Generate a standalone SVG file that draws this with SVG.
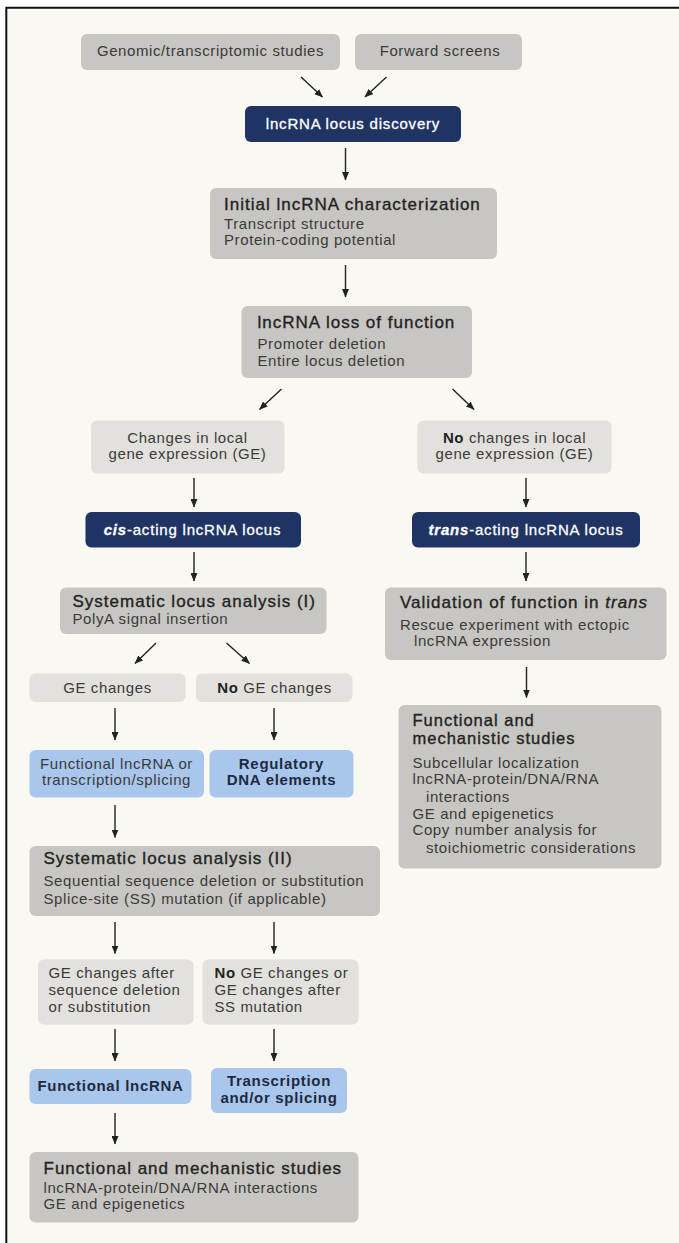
<svg xmlns="http://www.w3.org/2000/svg" width="679" height="1243" viewBox="0 0 679 1243">
<defs>
<style>
.bg{fill:#f9f8f2}
.dk{fill:#c7c6c2}
.lt{fill:#e2e1dd}
.nv{fill:#1f3463}
.bl{fill:#a9c6ec}
text{font-family:"Liberation Sans",Arial,Helvetica,sans-serif;font-size:15px;letter-spacing:0.6px;fill:#3a3a3a}
.h{font-size:17px;letter-spacing:1px;fill:#232323;stroke:#232323;stroke-width:0.35}
.h2{font-size:16.5px}
.w{fill:#ffffff;stroke:#ffffff;stroke-width:0.3;letter-spacing:0.8px}
.bd{font-weight:bold;fill:#1e2a3e;letter-spacing:0.7px}
.c{text-anchor:middle}
.k{font-weight:bold;fill:#222}
.cn line{stroke:#222;stroke-width:1.4;fill:none;marker-end:url(#ah)}
</style>
<marker id="ah" markerUnits="userSpaceOnUse" markerWidth="9" markerHeight="7" refX="8" refY="3.5" orient="auto">
<path d="M0,0 L8.5,3.5 L0,7 z" fill="#222"/>
</marker>
</defs>
<rect x="0" y="0" width="679" height="1243" fill="#ffffff"/>
<rect class="bg" x="6" y="7.5" width="673" height="1236"/>
<path d="M6.3,1243 V7.7 H679" fill="none" stroke="#111" stroke-width="2"/>

<g id="n-genomic"><rect class="dk" x="81" y="34" width="259" height="36" rx="6"/><text class="c" x="210.5" y="56">Genomic/transcriptomic studies</text></g>
<g id="n-forward"><rect class="dk" x="355" y="34" width="167" height="36" rx="6"/><text class="c" x="440" y="56">Forward screens</text></g>
<g id="n-discovery"><rect class="nv" x="245" y="106" width="216" height="36" rx="6"/><text class="c w" x="353" y="129">lncRNA locus discovery</text></g>
<g id="n-initial"><rect class="dk" x="210" y="188" width="287" height="71" rx="6"/>
<text class="h" x="224" y="210">Initial lncRNA characterization</text>
<text x="224" y="228.5">Transcript structure</text>
<text x="224" y="244.5">Protein-coding potential</text></g>
<g id="n-loss"><rect class="dk" x="241.5" y="306" width="230.5" height="72" rx="6"/>
<text class="h" x="257.5" y="327.5">lncRNA loss of function</text>
<text x="257.5" y="348.5">Promoter deletion</text>
<text x="257.5" y="365.5">Entire locus deletion</text></g>
<g id="n-changes"><rect class="lt" x="91" y="420.5" width="193.5" height="53" rx="6"/>
<text class="c" x="187.5" y="442.5">Changes in local</text>
<text class="c" x="187.5" y="458.5">gene expression (GE)</text></g>
<g id="n-nochanges"><rect class="lt" x="417.5" y="420.5" width="194" height="53" rx="6"/>
<text class="c" x="514.5" y="442.5"><tspan class="k">No</tspan> changes in local</text>
<text class="c" x="514.5" y="458.5">gene expression (GE)</text></g>
<g id="n-cis"><rect class="nv" x="85.5" y="512" width="215.5" height="35.5" rx="6"/>
<text class="c w" x="192.5" y="534.5"><tspan font-weight="bold" font-style="italic">cis</tspan>-acting lncRNA locus</text></g>
<g id="n-trans"><rect class="nv" x="412" y="512" width="228" height="35.5" rx="6"/>
<text class="c w" x="526" y="534.5"><tspan font-weight="bold" font-style="italic">trans</tspan>-acting lncRNA locus</text></g>
<g id="n-sys1"><rect class="dk" x="60" y="587.5" width="266.5" height="46.5" rx="6"/>
<text class="h" x="72.5" y="606.5">Systematic locus analysis (I)</text>
<text x="72.5" y="623.5">PolyA signal insertion</text></g>
<g id="n-validation"><rect class="dk" x="385" y="587.5" width="281.5" height="72.5" rx="6"/>
<text class="h" x="400" y="607.5">Validation of function in <tspan font-style="italic">trans</tspan></text>
<text x="400" y="629.5">Rescue experiment with ectopic</text>
<text x="414" y="646">lncRNA expression</text></g>
<g id="n-ge"><rect class="lt" x="29.5" y="673.5" width="156" height="28.5" rx="6"/>
<text class="c" x="107.5" y="692.5">GE changes</text></g>
<g id="n-noge"><rect class="lt" x="196" y="673.5" width="156.5" height="28.5" rx="6"/>
<text class="c" x="274.5" y="692.5"><tspan class="k">No</tspan> GE changes</text></g>
<g id="n-funcor"><rect class="bl" x="29.5" y="750" width="174.5" height="47.5" rx="6"/>
<text class="c" x="116.5" y="768.5">Functional lncRNA or</text>
<text class="c" x="116.5" y="784.5">transcription/splicing</text></g>
<g id="n-regulatory"><rect class="bl" x="209.5" y="750" width="144" height="47.5" rx="6"/>
<text class="c bd" x="281.5" y="768.5">Regulatory</text>
<text class="c bd" x="281.5" y="784.5">DNA elements</text></g>
<g id="n-func-right"><rect class="dk" x="398.5" y="705" width="263" height="163.5" rx="6"/>
<text class="h h2" x="412.5" y="726">Functional and</text>
<text class="h h2" x="412.5" y="744">mechanistic studies</text>
<text x="412.5" y="767.5">Subcellular localization</text>
<text x="412.5" y="784">lncRNA-protein/DNA/RNA</text>
<text x="426" y="801.5">interactions</text>
<text x="412.5" y="818.5">GE and epigenetics</text>
<text x="412.5" y="835">Copy number analysis for</text>
<text x="426" y="852.5">stoichiometric considerations</text></g>
<g id="n-sys2"><rect class="dk" x="29.5" y="846" width="350.5" height="70" rx="6"/>
<text class="h" x="43.5" y="864">Systematic locus analysis (II)</text>
<text x="43.5" y="885.5">Sequential sequence deletion or substitution</text>
<text x="43.5" y="903.5">Splice-site (SS) mutation (if applicable)</text></g>
<g id="n-geafter"><rect class="lt" x="38" y="959.5" width="155.5" height="65" rx="6"/>
<text x="48.5" y="977.5">GE changes after</text>
<text x="48.5" y="994.5">sequence deletion</text>
<text x="48.5" y="1011.5">or substitution</text></g>
<g id="n-nogeor"><rect class="lt" x="202.5" y="959.5" width="156" height="65" rx="6"/>
<text x="214.5" y="977.5"><tspan class="k">No</tspan> GE changes or</text>
<text x="214.5" y="994.5">GE changes after</text>
<text x="214.5" y="1011.5">SS mutation</text></g>
<g id="n-funclnc"><rect class="bl" x="29.5" y="1069" width="162" height="35" rx="6"/>
<text class="c bd" x="110.5" y="1090.5">Functional lncRNA</text></g>
<g id="n-transcription"><rect class="bl" x="211" y="1068" width="136" height="45" rx="6"/>
<text class="c bd" x="279" y="1085.5">Transcription</text>
<text class="c bd" x="279" y="1102.5">and/or splicing</text></g>
<g id="n-func-bottom"><rect class="dk" x="29.5" y="1152" width="329" height="70.5" rx="6"/>
<text class="h" x="43.5" y="1173.5">Functional and mechanistic studies</text>
<text x="43.5" y="1192.5">lncRNA-protein/DNA/RNA interactions</text>
<text x="43.5" y="1209">GE and epigenetics</text></g>

<g id="connectors" class="cn">
<line x1="301" y1="77" x2="322.5" y2="97"/>
<line x1="386.5" y1="77" x2="365" y2="97"/>
<line x1="345.5" y1="148" x2="345.5" y2="180"/>
<line x1="345.5" y1="265" x2="345.5" y2="297"/>
<line x1="281.5" y1="389" x2="259.5" y2="409.5"/>
<line x1="452.5" y1="389" x2="474" y2="409.5"/>
<line x1="194" y1="478" x2="194" y2="507"/>
<line x1="526" y1="478" x2="526" y2="507"/>
<line x1="194" y1="552" x2="194" y2="581"/>
<line x1="526" y1="552" x2="526" y2="581"/>
<line x1="156" y1="643" x2="135" y2="663.5"/>
<line x1="226.5" y1="643" x2="249.5" y2="663.5"/>
<line x1="115" y1="708" x2="115" y2="740"/>
<line x1="274" y1="708" x2="274" y2="740"/>
<line x1="526.5" y1="667" x2="526.5" y2="697.5"/>
<line x1="115" y1="805" x2="115" y2="837.5"/>
<line x1="115" y1="922" x2="115" y2="953.5"/>
<line x1="274" y1="922" x2="274" y2="953.5"/>
<line x1="115" y1="1029" x2="115" y2="1061"/>
<line x1="274" y1="1029" x2="274" y2="1061"/>
<line x1="115" y1="1113" x2="115" y2="1144"/>
</g>
</svg>
